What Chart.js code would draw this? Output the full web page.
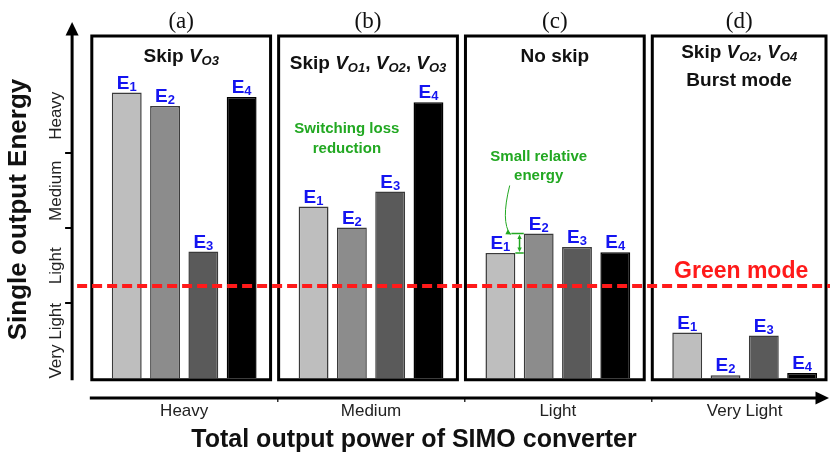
<!DOCTYPE html>
<html>
<head>
<meta charset="utf-8">
<script src="https://cdn.jsdelivr.net/npm/chart.js@4.4.1/dist/chart.umd.min.js"></script>
<style>
  html, body { margin: 0; padding: 0; background: #fff; }
  #wrap { width: 830px; height: 458px; }
</style>
</head>
<body>
<div id="wrap"><canvas id="energyChart" width="830" height="458"></canvas></div>
<script>
// categories / tick labels
const loadLevels = ['Heavy', 'Medium', 'Light', 'Very Light'];
const energyLevels = ['Very Light', 'Light', 'Medium', 'Heavy'];
const panelLetters = ['(a)', '(b)', '(c)', '(d)'];

// single output energy per output (1 unit = one energy band)
const e1Values = [3.81, 2.29, 1.67, 0.61];
const e2Values = [3.63, 2.01, 1.93, 0.04];
const e3Values = [1.69, 2.49, 1.75, 0.57];
const e4Values = [3.75, 3.68, 1.68, 0.07];
const greenModeLevel = 1.23;

// panel headings: [text, style] pieces, one array per line
const panelTitles = [
    [[['Skip ', 'b'], ['V', 'i'], ['O3', 's']]],
    [[['Skip ', 'b'], ['V', 'i'], ['O1', 's'], [', ', 'b'], ['V', 'i'], ['O2', 's'], [', ', 'b'], ['V', 'i'], ['O3', 's']]],
    [[['No skip', 'b']]],
    [[['Skip ', 'b'], ['V', 'i'], ['O2', 's'], [', ', 'b'], ['V', 'i'], ['O4', 's']], [['Burst mode', 'b']]]
];
const titleOffsets = [[26], [33], [26], [22, 50]];

const FAMILY = "'Liberation Sans', Arial, Helvetica, sans-serif";
const barColors = ['#bebebe', '#8c8c8c', '#5a5a5a', '#000000'];
const labelBlue = '#1414f0';
const noteGreen = '#22a822';
const modeRed = '#ff1a1a';

Chart.defaults.font.family = FAMILY;

const richStyles = {
    b: { font: 'bold 19px ' + FAMILY, dy: 0 },
    i: { font: 'italic bold 19px ' + FAMILY, dy: 0 },
    s: { font: 'italic bold 13px ' + FAMILY, dy: 3 },
    E: { font: 'bold 19px ' + FAMILY, dy: 0 },
    Es: { font: 'bold 13px ' + FAMILY, dy: 2 }
};

function drawRich(ctx, segs, cx, baseline) {
    let total = 0;
    segs.forEach(([t, st]) => {
        ctx.font = richStyles[st].font;
        total += ctx.measureText(t).width;
    });
    let x = cx - total / 2;
    ctx.textAlign = 'left';
    ctx.textBaseline = 'alphabetic';
    segs.forEach(([t, st]) => {
        ctx.font = richStyles[st].font;
        ctx.fillText(t, x, baseline + richStyles[st].dy);
        x += ctx.measureText(t).width;
    });
}

function arrowHead(ctx, x, y, angle, size) {
    ctx.beginPath();
    ctx.moveTo(x, y);
    ctx.lineTo(x - size * Math.cos(angle - 0.45), y - size * Math.sin(angle - 0.45));
    ctx.lineTo(x - size * Math.cos(angle + 0.45), y - size * Math.sin(angle + 0.45));
    ctx.closePath();
    ctx.fill();
}

const panelPlugin = {
    id: 'panels',
    afterDatasetsDraw(chart) {
        const { ctx, chartArea, scales: { y } } = chart;
        const metas = [0, 1, 2, 3].map(d => chart.getDatasetMeta(d).data);
        const boxTop = chartArea.top + 14;
        const zeroY = y.getPixelForValue(0);
        const boxBottom = zeroY + 1.5;
        const centers = [];
        ctx.save();

        // panel frames, letters, headings
        loadLevels.forEach((_, i) => {
            const first = metas[0][i], last = metas[3][i];
            const left = first.x - first.width / 2 - 20;
            const right = Math.min(last.x + last.width / 2 + 14, chart.width - 4);
            ctx.lineWidth = 3;
            ctx.strokeStyle = '#000';
            ctx.strokeRect(left, boxTop, right - left, boxBottom - boxTop);
            const cx = (left + right) / 2;
            centers.push({ cx, left });
            ctx.fillStyle = '#111';
            ctx.font = '23px "Liberation Serif", "Times New Roman", serif';
            ctx.textAlign = 'center';
            ctx.textBaseline = 'alphabetic';
            ctx.fillText(panelLetters[i], cx, boxTop - 8);
            panelTitles[i].forEach((line, k) => drawRich(ctx, line, cx, boxTop + titleOffsets[i][k]));
        });

        // E labels above every bar
        ctx.fillStyle = labelBlue;
        metas.forEach((bars, d) => {
            bars.forEach(el => drawRich(ctx, [['E', 'E'], [String(d + 1), 'Es']], el.x, el.y - 4));
        });

        // green notes
        ctx.fillStyle = noteGreen;
        ctx.strokeStyle = noteGreen;
        ctx.font = 'bold 15px ' + FAMILY;
        ctx.textAlign = 'center';
        const b1 = metas[0][1], b2 = metas[1][1];
        ctx.fillText('Switching loss', b2.x - 5, b1.y - 74);
        ctx.fillText('reduction', b2.x - 5, b1.y - 54);

        const c1 = metas[0][2], c2 = metas[1][2];
        ctx.fillText('Small relative', c2.x, c2.y - 73);
        ctx.fillText('energy', c2.x, c2.y - 54);
        const r1 = c1.x + c1.width / 2, l2 = c2.x - c2.width / 2;
        ctx.lineWidth = 1.5;
        ctx.beginPath();
        ctx.moveTo(r1 - 4, c2.y); ctx.lineTo(l2, c2.y);
        ctx.moveTo(r1, c1.y); ctx.lineTo(l2, c1.y);
        const xm = (r1 + l2) / 2;
        ctx.moveTo(xm, c2.y + 4); ctx.lineTo(xm, c1.y - 4);
        ctx.stroke();
        arrowHead(ctx, xm, c2.y + 1, -Math.PI / 2, 5);
        arrowHead(ctx, xm, c1.y - 1, Math.PI / 2, 5);
        ctx.lineWidth = 1;
        ctx.beginPath();
        ctx.moveTo(c2.x - 29, c2.y - 48);
        ctx.quadraticCurveTo(c2.x - 38, c2.y - 12, r1 - 5, c2.y + 1);
        ctx.stroke();
        arrowHead(ctx, r1 - 4, c2.y + 1, 0.5, 6);

        // axes with arrow heads
        ctx.fillStyle = '#000';
        ctx.strokeStyle = '#000';
        ctx.lineWidth = 3;
        const ax = chartArea.left;
        ctx.beginPath();
        ctx.moveTo(ax, zeroY + 2);
        ctx.lineTo(ax, chartArea.top + 10);
        ctx.stroke();
        arrowHead(ctx, ax, chartArea.top, -Math.PI / 2, 15);
        const ay = chartArea.bottom + 1;
        ctx.beginPath();
        ctx.moveTo(centers[0].left - 2, ay);
        ctx.lineTo(chart.width - 12, ay);
        ctx.stroke();
        arrowHead(ctx, chart.width - 1, ay, 0, 15);

        // green mode threshold
        const gy = y.getPixelForValue(greenModeLevel);
        ctx.strokeStyle = modeRed;
        ctx.fillStyle = modeRed;
        ctx.lineWidth = 4;
        ctx.setLineDash([10, 5]);
        ctx.beginPath();
        ctx.moveTo(chartArea.left + 5, gy);
        ctx.lineTo(chart.width, gy);
        ctx.stroke();
        ctx.setLineDash([]);
        ctx.font = 'bold 23px ' + FAMILY;
        ctx.textAlign = 'center';
        ctx.fillText('Green mode', centers[3].cx + 2, gy - 8);
        ctx.restore();
    }
};

const seriesValues = [e1Values, e2Values, e3Values, e4Values];

new Chart(document.getElementById('energyChart'), {
    type: 'bar',
    data: {
        datasets: seriesValues.map((vals, d) => ({
            label: 'E' + (d + 1),
            data: vals.map((v, i) => ({ x: i, y: v })),
            backgroundColor: barColors[d],
            borderColor: d === 3 ? '#000' : '#3a3a3a',
            borderWidth: 1.5,
            categoryPercentage: 0.82,
            barPercentage: 0.78
        }))
    },
    options: {
        responsive: false,
        animation: false,
        layout: { padding: { top: 22, right: 2, left: 0, bottom: 0 } },
        plugins: {
            legend: { display: false },
            tooltip: { enabled: false },
            title: {
                display: true,
                position: 'bottom',
                text: 'Total output power of SIMO converter',
                color: '#111',
                font: { size: 25, weight: 'bold', lineHeight: 1.2 },
                padding: { top: 5, bottom: 3 }
            }
        },
        scales: {
            x: {
                type: 'linear',
                offset: false,
                min: -0.6,
                max: 3.446,
                afterBuildTicks: scale => { scale.ticks = loadLevels.map((_, i) => ({ value: i })); },
                ticks: {
                    callback: v => loadLevels[v],
                    color: '#222',
                    font: { size: 17, lineHeight: 1 },
                    padding: 0.5,
                    maxRotation: 0,
                    autoSkip: false
                },
                grid: {
                    offset: true,
                    drawOnChartArea: false,
                    tickLength: 5,
                    lineWidth: 1.5,
                    color: ctx => ctx.index === 0 ? 'rgba(0,0,0,0)' : '#333'
                },
                border: { display: false }
            },
            y: {
                min: -0.25,
                max: 4.75,
                afterBuildTicks: scale => { scale.ticks = energyLevels.map((_, i) => ({ value: i + 0.5 })); },
                ticks: {
                    callback: (v, i) => energyLevels[i],
                    color: '#222',
                    font: { size: 17, lineHeight: 1.2 },
                    minRotation: 90,
                    maxRotation: 90,
                    crossAlign: 'center',
                    padding: -28.75
                },
                grid: {
                    offset: true,
                    drawOnChartArea: false,
                    tickLength: 7,
                    lineWidth: 2,
                    color: ctx => ctx.index > 0 ? '#000' : 'rgba(0,0,0,0)'
                },
                border: { display: false },
                title: {
                    display: true,
                    text: 'Single output Energy',
                    color: '#111',
                    font: { size: 26, weight: 'bold', lineHeight: 1.2 },
                    padding: { top: 3, bottom: 68 }
                }
            }
        }
    },
    plugins: [panelPlugin]
});
</script>
</body>
</html>
